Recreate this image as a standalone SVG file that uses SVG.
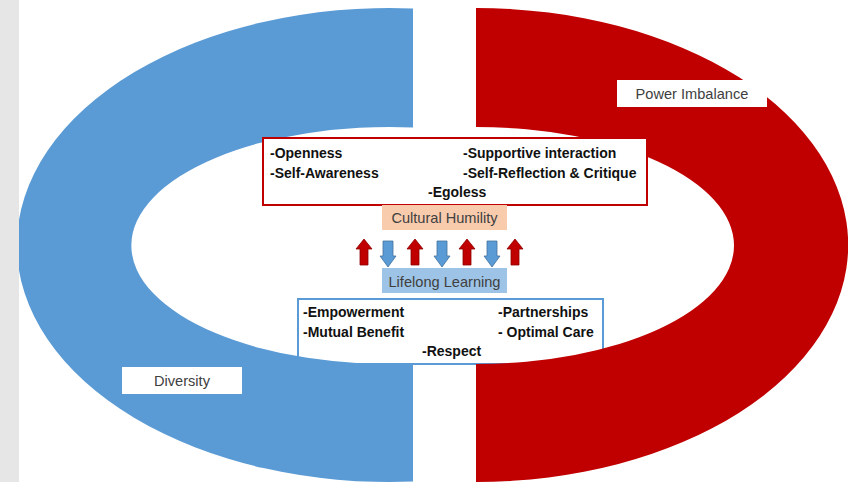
<svg xmlns="http://www.w3.org/2000/svg" width="848" height="482" viewBox="0 0 848 482">
  <style>
    .trait { font-family: "Liberation Sans", Arial, sans-serif; font-size: 14px; font-weight: bold; fill: #111111; }
    .label { font-family: "Liberation Sans", Arial, sans-serif; font-size: 14.6px; fill: #404040; text-anchor: middle; }
    .tag { fill: #ffffff; }
  </style>
  <defs>
    <!-- upward red arrow, tip at origin -->
    <path id="arrow-up" d="M0,0 L8,10 L4,10 L4,26 L-4,26 L-4,10 L-8,10 Z" fill="#C00000" stroke="#8E0000" stroke-width="0.8"/>
    <!-- downward blue arrow, tip at origin -->
    <path id="arrow-down" d="M0,0 L8,-11 L5,-11 L5,-26 L-5,-26 L-5,-11 L-8,-11 Z" fill="#5B9BD5" stroke="#41719C" stroke-width="0.8"/>
  </defs>

  <rect x="0" y="0" width="848" height="482" fill="#ffffff"/>

  <!-- lower traits box sits beneath the rings -->
  <g id="box-partnership-traits">
    <rect x="298" y="299" width="305" height="65" fill="#ffffff" stroke="#5B9BD5" stroke-width="2"/>
    <text class="trait" x="303" y="317">-Empowerment</text>
    <text class="trait" x="303" y="336.5">-Mutual Benefit</text>
    <text class="trait" x="498" y="317">-Partnerships</text>
    <text class="trait" x="498" y="336.5">- Optimal Care</text>
    <text class="trait" x="422" y="356">-Respect</text>
  </g>

  <!-- left half ring -->
  <g id="ring-diversity">
    <path d="M413,8.5 A372,237 0 1 0 413,481.5 L413,363.5 A258,118.5 0 1 1 413,127.5 Z" fill="#5B9BD5"/>
  </g>

  <!-- right half ring -->
  <g id="ring-power">
    <path d="M476,8 A372,237 0 1 1 476,482 L476,364 A258,118.5 0 1 0 476,127 Z" fill="#C00000"/>
  </g>

  <!-- side strip -->
  <rect x="0" y="0" width="19" height="482" fill="#E6E6E6"/>

  <g id="box-humility-traits">
    <rect x="263" y="138" width="384" height="67" fill="#ffffff" stroke="#C00000" stroke-width="2"/>
    <text class="trait" x="270" y="158">-Openness</text>
    <text class="trait" x="270" y="177.5">-Self-Awareness</text>
    <text class="trait" x="463" y="158">-Supportive interaction</text>
    <text class="trait" x="463" y="177.5">-Self-Reflection &amp; Critique</text>
    <text class="trait" x="428" y="197">-Egoless</text>
  </g>

  <g id="label-cultural-humility">
    <rect x="382" y="205" width="125" height="25" fill="#F8CBAD"/>
    <text class="label" x="444.5" y="222.5">Cultural Humility</text>
  </g>

  <g id="connectors">
    <use href="#arrow-up" x="364" y="239"/>
    <use href="#arrow-down" x="388" y="267"/>
    <use href="#arrow-up" x="415" y="239"/>
    <use href="#arrow-down" x="442" y="267"/>
    <use href="#arrow-up" x="467" y="239"/>
    <use href="#arrow-down" x="492" y="267"/>
    <use href="#arrow-up" x="515" y="239"/>
  </g>

  <g id="label-lifelong-learning">
    <rect x="382" y="268" width="125" height="25" fill="#9DC3E6"/>
    <text class="label" x="444.5" y="287">Lifelong Learning</text>
  </g>

  <g id="label-power-imbalance">
    <rect class="tag" x="617" y="80" width="150" height="27"/>
    <text class="label" x="692" y="99">Power Imbalance</text>
  </g>

  <g id="label-diversity">
    <rect class="tag" x="122" y="367" width="120" height="27"/>
    <text class="label" x="182" y="386">Diversity</text>
  </g>
</svg>
